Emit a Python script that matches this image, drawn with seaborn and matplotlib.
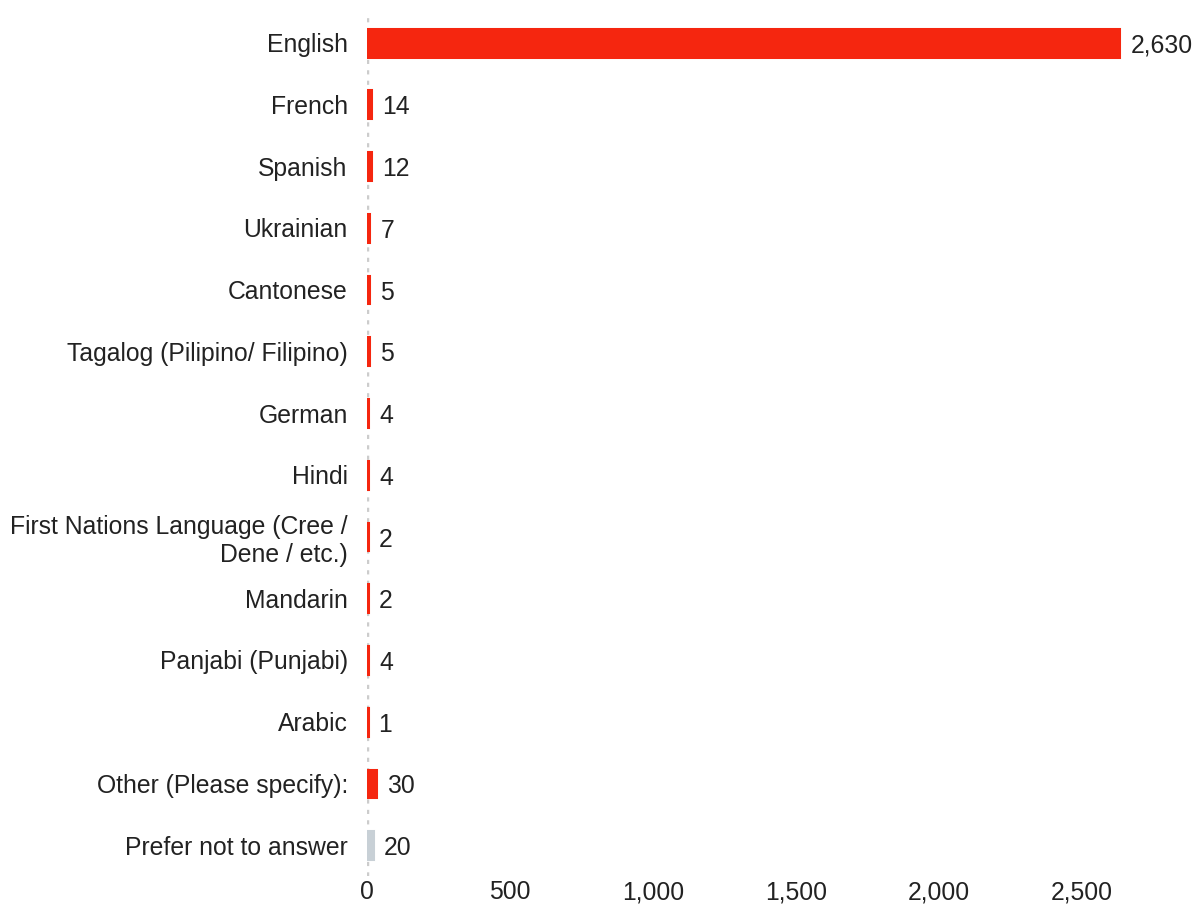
import matplotlib.pyplot as plt
import matplotlib.ticker as mticker
import seaborn as sns

# languages spoken at home - survey counts
languages = ['English', 'French', 'Spanish', 'Ukrainian', 'Cantonese',
             'Tagalog (Pilipino/ Filipino)', 'German', 'Hindi',
             'First Nations Language (Cree /\nDene / etc.)', 'Mandarin',
             'Panjabi (Punjabi)', 'Arabic', 'Other (Please specify):',
             'Prefer not to answer']
counts = [2630, 14, 12, 7, 5, 5, 4, 4, 2, 2, 4, 1, 30, 20]
labels = ['2,630', '14', '12', '7', '5', '5', '4', '4', '2', '2', '4', '1', '30', '20']

red = '#F5260F'
grey = '#C8D0D6'
colors = [red] * 13 + [grey]

sns.set_theme(style='white')
plt.rcParams['font.family'] = ['Liberation Sans', 'DejaVu Sans']

fig = plt.figure(figsize=(12.04, 9.05), dpi=100)
ax = fig.add_axes([0.305, 0.032, 0.665, 0.955])

sns.barplot(x=counts, y=languages, hue=languages, palette=colors,
            saturation=1, legend=False, width=0.45, ax=ax, orient='h')

# thin edge so the tiny bars still show up
for p, c in zip(ax.patches, colors):
    p.set_edgecolor(c)
    p.set_linewidth(2.2)

for cont, lab in zip(ax.containers, labels):
    txt = ax.bar_label(cont, labels=[lab], padding=8, fontsize=17.8, color='#222222')
    for t in txt:
        x0, y0 = t.xyann
        t.xyann = (x0, y0 - 2.2)

ax.axvline(0, color='#CCCCCC', linestyle=(0, (1.2, 1.8)), linewidth=2.5, zorder=0)

ax.set_xlim(0, 2800)
ax.set_ylim(len(languages) - 0.5, -0.5)
ax.set_xticks([0, 500, 1000, 1500, 2000, 2500])
ax.xaxis.set_major_formatter(mticker.StrMethodFormatter('{x:,.0f}'))
ax.tick_params(axis='both', length=0, labelsize=17.8, colors='#222222')
ax.tick_params(axis='y', pad=14)
ax.tick_params(axis='x', pad=3)
for lbl in ax.get_yticklabels():
    lbl.set_horizontalalignment('right')
    lbl.set_multialignment('right')
    lbl.set_linespacing(1.2)
ax.set_xlabel('')
ax.set_ylabel('')
sns.despine(ax=ax, left=True, bottom=True)

fig.savefig('out.png', dpi=100)
